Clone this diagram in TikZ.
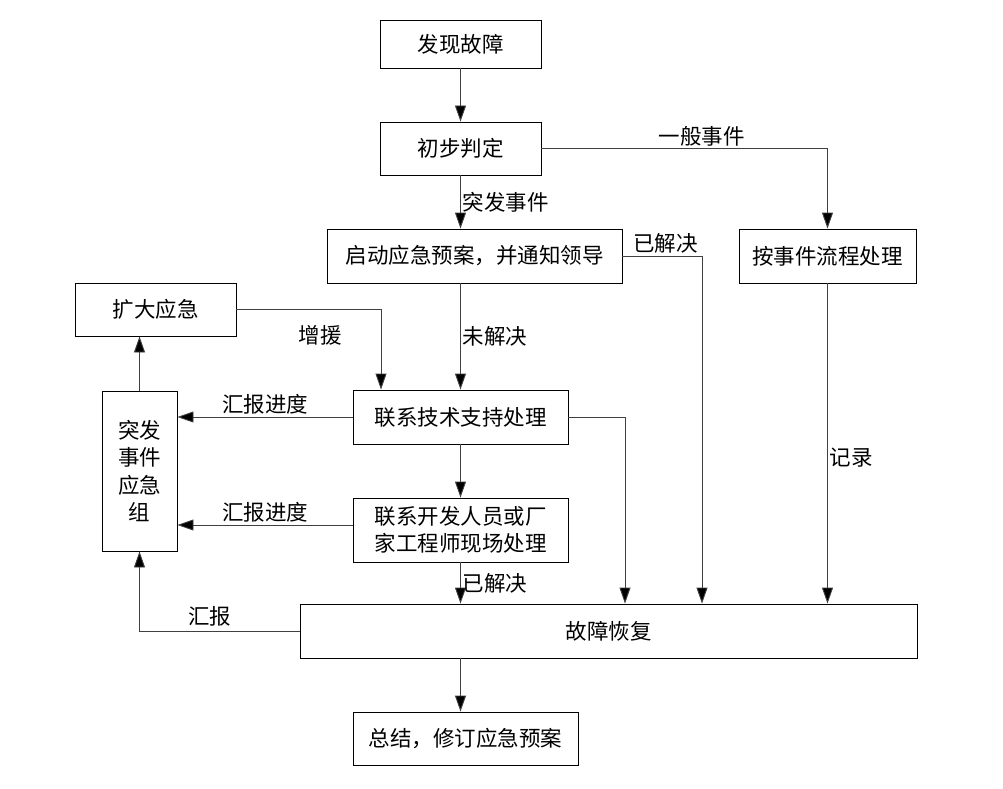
\documentclass[tikz,border=0pt]{standalone}
\usepackage{fontspec}
\newfontfamily\cjk{Noto Sans CJK SC}
\usetikzlibrary{arrows.meta}
\begin{document}
\begin{tikzpicture}[x=1pt, y=-1pt, boxStyle/.style={rectangle, draw, line width=0.9pt, inner sep=0pt, align=center, font=\cjk\fontsize{21.5}{27.5}\selectfont}, flowStyle/.style={draw=black!75, line width=0.9pt, -{Triangle[length=16pt, width=11pt, fill=black]}}, tagStyle/.style={inner sep=2pt, font=\cjk\fontsize{21.5}{24}\selectfont}]
                    \useasboundingbox (0,0) rectangle (1003,789);

                    \node[boxStyle, minimum width=161, minimum height=48] (find)     at (460.5,  44)   {发现故障};
                    \node[boxStyle, minimum width=161, minimum height=53] (judge)    at (460.5, 148.5) {初步判定};
                    \node[boxStyle, minimum width=295, minimum height=54] (start)    at (474.5, 256)   {启动应急预案，并通知领导};
                    \node[boxStyle, minimum width=177, minimum height=54] (routine)  at (827.5, 256)   {按事件流程处理};
                    \node[boxStyle, minimum width=161, minimum height=53] (expand)   at (155.5, 309.5) {扩大应急};
                    \node[boxStyle, minimum width=75,  minimum height=160] (team)    at (139.5, 471)   {突发\\事件\\应急\\组};
                    \node[boxStyle, minimum width=215, minimum height=54] (support)  at (460.5, 417)   {联系技术支持处理};
                    \node[boxStyle, minimum width=215, minimum height=64] (onsite)   at (460.5, 530)   {联系开发人员或厂\\家工程师现场处理};
                    \node[boxStyle, minimum width=617, minimum height=54] (recover)  at (608.5, 631)   {故障恢复};
                    \node[boxStyle, minimum width=225, minimum height=53] (summary)  at (465.5, 738.5) {总结，修订应急预案};

                    \coordinate (col_aid)    at (381, 0);
                    \coordinate (col_tech)   at (625, 0);
                    \coordinate (col_solved) at (702, 0);

                    \draw[flowStyle] (find.south) -- (judge.north);
                    \draw[flowStyle] (judge.east) -| node[tagStyle, pos=0.28, above] {一般事件} (routine.north);
                    \draw[flowStyle] (judge.south) -- node[tagStyle, right] {突发事件} (start.north -| judge.south);
                    \draw[flowStyle] (start.east) -| node[tagStyle, pos=0.27, above] {已解决} (col_solved |- recover.north);
                    \draw[flowStyle] (start.south -| support.north) -- node[tagStyle, right] {未解决} (support.north);
                    \draw[flowStyle] (expand.east) -| node[tagStyle, pos=0.29, below=13pt] {增援} (col_aid |- support.north);
                    \draw[flowStyle] (support.west) -- node[tagStyle, above] {汇报进度} (support.west -| team.east);
                    \draw[flowStyle] ([yshift=5pt]onsite.west) -- node[tagStyle, above] {汇报进度} ([yshift=5pt]onsite.west -| team.east);
                    \draw[flowStyle] (support.south) -- (onsite.north);
                    \draw[flowStyle] (onsite.south) -- node[tagStyle, right] {已解决} (onsite.south |- recover.north);
                    \draw[flowStyle] (support.east) -| (col_tech |- recover.north);
                    \draw[flowStyle] (routine.south) -- node[tagStyle, pos=0.545, right] {记录} (routine.south |- recover.north);
                    \draw[flowStyle] (recover.west) -| node[tagStyle, pos=0.28, above=2pt] {汇报} (team.south);
                    \draw[flowStyle] (team.north) -- (team.north |- expand.south);
                    \draw[flowStyle] (support.south |- recover.south) -- (support.south |- summary.north);
                \end{tikzpicture}
\end{document}
